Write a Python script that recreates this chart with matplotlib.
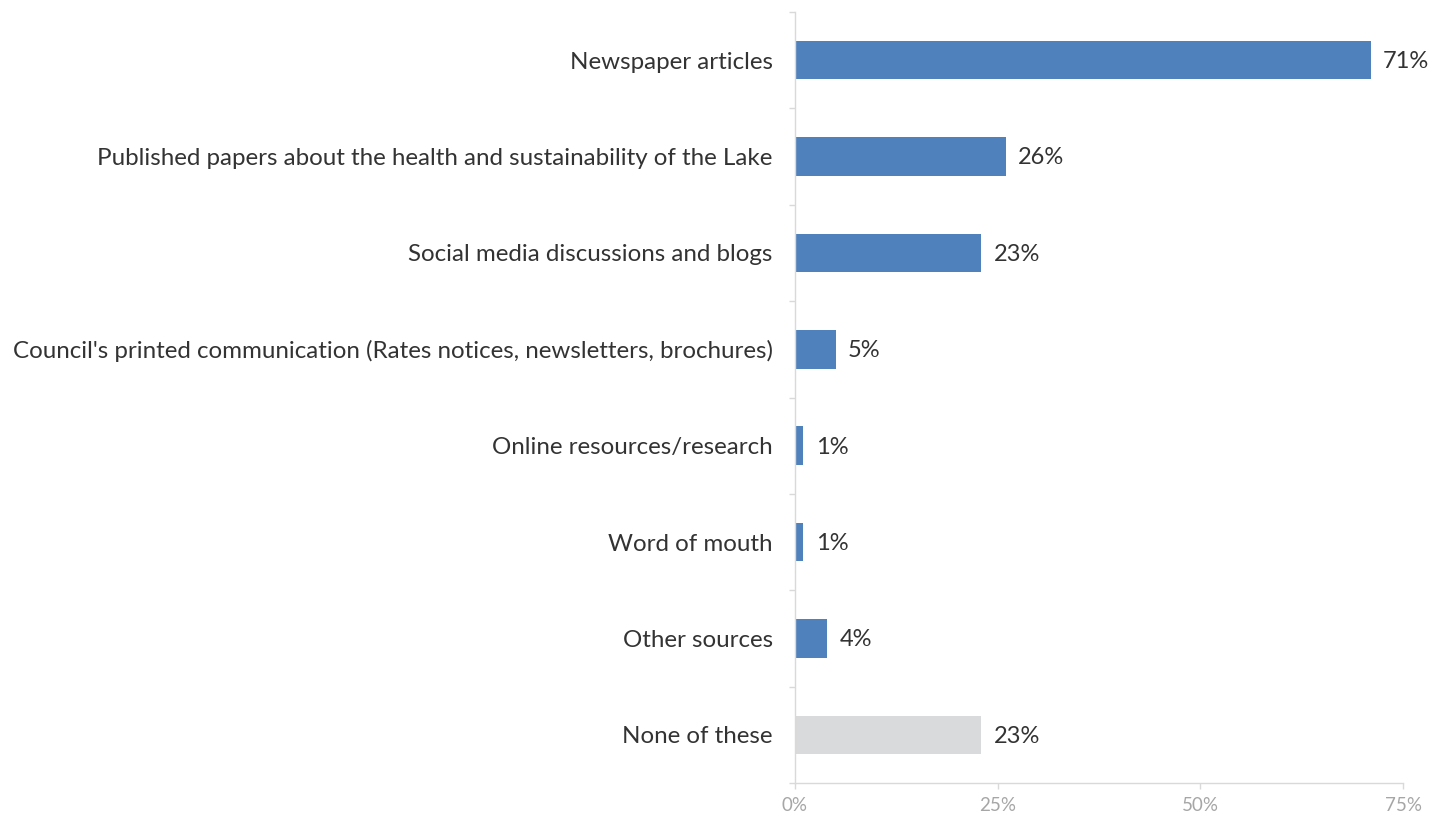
import matplotlib
matplotlib.use("Agg")
import matplotlib.pyplot as plt
import numpy as np
from matplotlib.ticker import FixedLocator

categories = [
    "Newspaper articles",
    "Published papers about the health and sustainability of the Lake",
    "Social media discussions and blogs",
    "Council's printed communication (Rates notices, newsletters, brochures)",
    "Online resources/research",
    "Word of mouth",
    "Other sources",
    "None of these",
]
values = [71, 26, 23, 5, 1, 1, 4, 23]
bar_colors = ["#4F81BD"] * 7 + ["#D9DADB"]
xticks = [0, 25, 50, 75]
xticklabels = ["0%", "25%", "50%", "75%"]

plt.rcParams['font.family'] = ['Lato', 'DejaVu Sans']

fig = plt.figure(figsize=(14.43, 8.15), dpi=100)
ax = fig.add_axes([795/1443, 1-783/815, (1403-795)/1443, (783-12)/815])

y = np.arange(len(categories))
ax.barh(y, values, height=0.4, color=bar_colors)
ax.set_ylim(len(categories)-0.5, -0.5)
ax.set_xlim(0, 75)

ax.set_yticks(y)
ax.set_yticklabels(categories, fontsize=17.4, color="#333333")
ax.tick_params(axis='y', which='major', length=0, pad=16)
ax.yaxis.set_minor_locator(FixedLocator(np.arange(-0.5, len(categories), 1.0)))
ax.tick_params(axis='y', which='minor', length=4, color="#D9D9D9", width=1)

ax.set_xticks(xticks)
ax.set_xticklabels(xticklabels, fontsize=13.5, color="#A6A6A6")
ax.tick_params(axis='x', which='major', length=4, color="#D9D9D9", width=1, pad=6)

for s in ['top', 'right']:
    ax.spines[s].set_visible(False)
for s in ['left', 'bottom']:
    ax.spines[s].set_color("#D9D9D9")
    ax.spines[s].set_linewidth(1)

for yi, v in zip(y, values):
    ax.annotate(f"{v}%", (v, yi), xytext=(9, -1), textcoords='offset points',
                va='center', ha='left', fontsize=17, color="#333333")

fig.savefig("out.png", dpi=100)
